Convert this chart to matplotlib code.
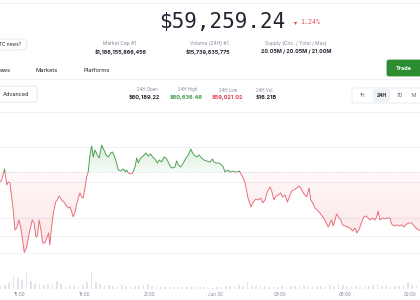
import numpy as np
import matplotlib.pyplot as plt
from matplotlib.patches import FancyBboxPatch, Rectangle
from matplotlib.lines import Line2D
from matplotlib.path import Path
from matplotlib.transforms import Affine2D

# --- data ---
# time in hours (15 = 15:00 Jun 29, 24 = 00:00 Jun 30)
hours = [14.08, 14.16, 14.29, 14.39, 14.46, 14.54, 14.62, 14.69, 14.77, 14.85, 14.95, 15.03, 15.12, 15.20,
         15.31, 15.43, 15.57, 15.65, 15.74, 15.80, 15.89, 15.97, 16.05, 16.15, 16.26, 16.32, 16.38, 16.46,
         16.54, 16.65, 16.72, 16.81, 16.92, 17.03, 17.12, 17.23, 17.31, 17.39, 17.46, 17.54, 17.64, 17.77,
         17.85, 17.92, 18.00, 18.08, 18.15, 18.23, 18.31, 18.38, 18.46, 18.57, 18.66, 18.77, 18.88, 18.97,
         19.08, 19.19, 19.27, 19.36, 19.46, 19.54, 19.65, 19.77, 19.86, 19.92, 20.00, 20.11, 20.20, 20.31,
         20.39, 20.46, 20.57, 20.69, 20.81, 20.92, 21.03, 21.12, 21.23, 21.34, 21.43, 21.54, 21.65, 21.74,
         21.84, 21.95, 22.05, 22.15, 22.23, 22.31, 22.42, 22.54, 22.66, 22.77, 22.88, 22.97, 23.08, 23.18,
         23.27, 23.38, 23.49, 23.63, 23.77, 23.89, 23.95, 24.05, 24.15, 24.26, 24.38, 24.46, 24.57, 24.69,
         24.82, 24.92, 25.03, 25.12, 25.23, 25.34, 25.43, 25.51, 25.58, 25.66, 25.77, 25.88, 26.00, 26.11,
         26.20, 26.31, 26.41, 26.54, 26.63, 26.72, 26.81, 26.92, 27.03, 27.12, 27.23, 27.34, 27.43, 27.54,
         27.64, 27.77, 27.89, 28.00, 28.11, 28.23, 28.34, 28.42, 28.51, 28.61, 28.72, 28.84, 28.97, 29.07,
         29.15, 29.23, 29.31, 29.38, 29.46, 29.54, 29.61, 29.69, 29.80, 29.89, 30.00, 30.10, 30.23, 30.35,
         30.46, 30.54, 30.66, 30.77, 30.87, 30.97, 31.07, 31.15, 31.28, 31.38, 31.46, 31.53, 31.61, 31.73,
         31.84, 31.95, 32.07, 32.15, 32.26, 32.38, 32.50, 32.61, 32.72, 32.85, 32.97, 33.08, 33.18, 33.27,
         33.38, 33.46]
price = [60044, 60073, 60233, 60001, 60044, 60030, 59827, 59638, 59348, 59377, 59493, 59392, 59203, 59021,
         59102, 59305, 59493, 59450, 59247, 59261, 59493, 59348, 59160, 59160, 59247, 59305, 59131, 59392,
         59595, 59754, 59783, 59841, 59783, 59754, 59711, 59667, 59682, 59609, 59537, 59609, 59754, 59885,
         59827, 59812, 59957, 60117, 60189, 60436, 60566, 60407, 60508, 60436, 60392, 60580, 60508, 60436,
         60407, 60465, 60479, 60421, 60320, 60218, 60204, 60233, 60189, 60218, 60175, 60160, 60175, 60262,
         60392, 60320, 60392, 60421, 60465, 60421, 60450, 60407, 60378, 60320, 60363, 60334, 60407, 60392,
         60334, 60262, 60247, 60262, 60349, 60291, 60262, 60320, 60392, 60436, 60523, 60465, 60421, 60407,
         60436, 60392, 60363, 60349, 60334, 60378, 60334, 60320, 60320, 60305, 60262, 60189, 60218, 60189,
         60204, 60189, 60189, 60204, 60146, 60073, 59972, 59827, 59754, 59682, 59754, 59798, 59783, 59812,
         59740, 59783, 59899, 59972, 59899, 59783, 59841, 59856, 59885, 59827, 59856, 59754, 59827, 59914,
         59928, 59957, 59986, 59928, 59870, 59827, 59957, 59783, 59740, 59667, 59638, 59595, 59537, 59493,
         59435, 59392, 59450, 59493, 59406, 59493, 59580, 59537, 59493, 59421, 59406, 59392, 59377, 59334,
         59377, 59305, 59363, 59464, 59537, 59551, 59522, 59493, 59522, 59493, 59537, 59624, 59493, 59522,
         59508, 59522, 59522, 59435, 59406, 59421, 59406, 59421, 59392, 59435, 59450, 59450, 59406, 59377,
         59348, 59348]
open_price = 60189.22

# volume bars, one every 12 minutes from 14:06
vol_start = 14.1
vol_step = 0.2
volume = [30, 40, 60, 140, 110, 90, 160, 80, 50, 50, 40, 50, 40, 80, 50, 30, 30, 30, 30, 40,
          70, 160, 70, 50, 40, 40, 30, 30, 40, 30, 30, 30, 30, 40, 50, 30, 20, 20, 20, 20,
          20, 20, 20, 20, 20, 20, 20, 20, 10, 10, 20, 20, 30, 30, 30, 40, 30, 70, 30, 30,
          30, 30, 20, 20, 20, 30, 20, 30, 30, 30, 30, 20, 30, 30, 30, 30, 40, 30, 50, 40,
          30, 30, 30, 20, 30, 30, 40, 50, 30, 30, 30, 30, 30, 40, 70, 40, 30, 30]

grid_levels = [60552, 60044, 59522, 59261, 59015]
tick_hours = [15, 18, 21, 24, 27, 30, 33]
tick_labels = ['15:00', '18:00', '21:00', 'Jun 30', '03:00', '06:00', '09:00']

GREEN = '#52a056'
RED = '#e6707a'
DARK = '#222531'
GRAY = '#808a9d'
LINE = '#eef0f4'

fig = plt.figure(figsize=(4.2, 3), dpi=100)
fig.patch.set_facecolor('white')
# pixel coordinates, y pointing down
T = Affine2D().scale(1, -1).translate(0, 300).scale(1 / 100) + fig.dpi_scale_trans


def txt(x, y, s, size, color=DARK, weight='normal', ha='center', family='Inter'):
    fig.text(x, y, s, transform=T, fontsize=size, color=color, fontweight=weight,
             ha=ha, va='center', family=family)


def box(x, y, w, h, fc='white', ec='#dfe3ea', r=2.5):
    fig.add_artist(FancyBboxPatch((x, y), w, h, boxstyle=f'round,pad=0,rounding_size={r}',
                                  transform=T, fc=fc, ec=ec, lw=0.6))


def hline(y):
    fig.add_artist(Line2D([0, 420], [y, y], transform=T, color=LINE, lw=0.7))


# --- header ---
hline(2.5)
txt(222, 22, '$59,259.24', 15, DARK, family='DejaVu Sans Mono')
txt(296, 22.5, '▾', 4.5, '#ea3943', family='DejaVu Sans')
txt(300, 22, '1.24%', 4.8, '#e0505c', ha='left', family='DejaVu Sans Mono')

box(-10, 39, 37, 11, ec='#e3e6ec', r=5)
txt(-1, 44.5, 'TC news?', 3.4, DARK, ha='left')

txt(120, 43, 'Market Cap #1', 3.5, GRAY)
txt(121, 52, '$1,188,155,866,456', 3.9, DARK, 'bold')
txt(209, 43, 'Volume (24H) #1', 3.5, GRAY)
txt(208, 52, '$15,739,835,775', 3.9, DARK, 'bold')
txt(296, 43, 'Supply (Circ. / Total / Max)', 3.5, GRAY)
txt(296, 52, '20.05M / 20.05M / 21.00M', 3.9, DARK, 'bold')

txt(0, 70, 'ews', 4.2, DARK, ha='left')
txt(47, 70, 'Markets', 4.2, DARK)
txt(97, 70, 'Platforms', 4.2, DARK)
box(387, 60, 40, 16, fc='#2b8c30', ec='#2b8c30', r=2)
txt(404, 68, 'Trade', 4.0, 'white', 'bold')
hline(78.5)

box(-5, 86, 42, 16, r=2.5)
txt(3, 94, 'Advanced', 4.0, DARK, ha='left')
txt(147, 90, '24H Open', 3.1, GRAY)
txt(144, 97.5, '$60,189.22', 4.0, DARK, 'bold')
txt(188, 90, '24H High', 3.1, GRAY)
txt(186, 97.5, '$60,636.46', 4.0, '#3f9a45', 'bold')
txt(228, 90, '24H Low', 3.1, GRAY)
txt(227, 97.5, '$59,021.02', 4.0, '#e0404c', 'bold')
txt(265, 90, '24H Vol.', 3.1, GRAY)
txt(266, 97.5, '$16.21B', 4.0, DARK, 'bold')

box(352, 88, 80, 15, ec='#e6e9ee', r=2.5)
box(373, 89.5, 17, 12, fc='#eff2f5', ec='#eff2f5', r=2)
txt(362, 95.5, '1H', 3.5, '#58667e')
txt(381.5, 95.5, '24H', 3.5, DARK, 'bold')
txt(400, 95.5, '7D', 3.5, '#58667e')
txt(414, 95.5, '1M', 3.5, '#58667e')
hline(112)

# --- chart ---
t = np.array(hours)
p = np.array(price)
x0, x1 = 14.08, 33.46
ylo, yhi = 58478, 61088

ax = fig.add_axes([0, 10 / 300, 1, 180 / 300])
ax.patch.set_alpha(0)
ax.set_zorder(2)
for lvl in grid_levels:
    ax.axhline(lvl, color=LINE, lw=0.7, zorder=0)
ax.axhline(open_price, color='#cfd5df', lw=0.6, ls=(0, (1, 1.2)), zorder=1)


def grad_fill(where, rgb, a_near, a_far, far):
    coll = ax.fill_between(t, p, open_price, where=where, interpolate=True,
                           facecolor='none', edgecolor='none')
    clip = Path.make_compound_path(*coll.get_paths())
    alpha = np.linspace(a_near, a_far, 64)
    lo, hi = (open_price, far) if far > open_price else (far, open_price)
    if far < open_price:
        alpha = alpha[::-1]
    img = np.zeros((64, 1, 4))
    img[..., 0], img[..., 1], img[..., 2] = rgb
    img[:, 0, 3] = alpha
    im = ax.imshow(img, extent=[x0, x1, lo, hi], origin='lower', aspect='auto',
                   interpolation='bilinear', zorder=1)
    im.set_clip_path(clip, transform=ax.transData)


grad_fill(p >= open_price, (0.27, 0.66, 0.30), 0.05, 0.22, 60600)
grad_fill(p <= open_price, (0.92, 0.30, 0.35), 0.04, 0.16, 59000)

up = Rectangle((x0 - 1, open_price), x1 - x0 + 2, 5000, transform=ax.transData)
dn = Rectangle((x0 - 1, open_price - 5000), x1 - x0 + 2, 5000, transform=ax.transData)
lg, = ax.plot(t, p, color=GREEN, lw=0.7, zorder=3)
lg.set_clip_path(up)
lr, = ax.plot(t, p, color=RED, lw=0.7, zorder=3)
lr.set_clip_path(dn)

ax.set_xlim(x0, x1)
ax.set_ylim(ylo, yhi)
ax.set_yticks([])
ax.set_xticks(tick_hours)
ax.set_xticklabels(tick_labels, fontsize=3.3, color=GRAY, family='Inter')
ax.tick_params(axis='x', length=0, pad=1.6)
for s in ax.spines.values():
    s.set_visible(False)

# volume on its own scale at the bottom
ax2 = fig.add_axes([0, 10 / 300, 1, 180 / 300], sharex=ax)
ax2.set_zorder(1)
ax2.patch.set_alpha(0)
vt = vol_start + vol_step * np.arange(len(volume))
ax2.bar(vt, volume, width=0.07, color='#e1e4ea', bottom=0)
ax2.set_ylim(-10, 1790)
ax2.set_xlim(x0, x1)
ax2.axis('off')

fig.savefig('out.png', dpi=100)
